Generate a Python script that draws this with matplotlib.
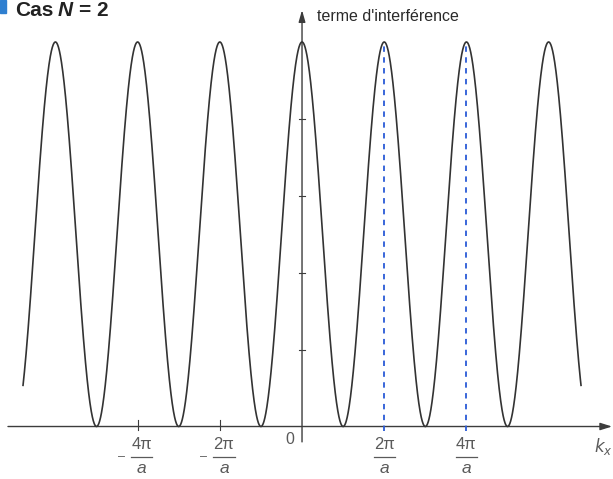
import numpy as np
import matplotlib
matplotlib.use("Agg")
import matplotlib.pyplot as plt
from matplotlib.patches import Rectangle

plt.rcParams['font.family'] = ['Liberation Sans', 'DejaVu Sans']

# ---- data ----
N = 2                                   # number of slits
k_range = (-3.395, 3.395)               # k_x in units of 2*pi/a
tick_positions = [-2, -1, 1, 2]         # multiples of 2*pi/a
tick_numerators = ['4\u03c0', '2\u03c0', '2\u03c0', '4\u03c0']
tick_signs = ['\u2013', '\u2013', '', '']
dashed_positions = [1, 2]
y_minor_ticks = [0.2, 0.4, 0.6, 0.8]

k = np.linspace(k_range[0], k_range[1], 3000)
# interference term for N slits, normalised to 1 (N = 2 : cos^2(k a / 2))
term = (np.sin(N * np.pi * k) / (N * np.sin(np.pi * k) + 1e-300)) ** 2
term[np.abs(np.sin(np.pi * k)) < 1e-9] = 1.0

fig = plt.figure(figsize=(6.13, 4.79), dpi=100)
ax = fig.add_axes([0, 0, 1, 1])
ax.set_xlim(-3.674, 3.783)
ax.set_ylim(-0.1365, 1.1092)
ax.axis('off')

axis_col = '#3c3c3c'
lab_col = '#5a5a5a'

# curve
ax.plot(k, term, color='#333333', lw=1.2, solid_capstyle='butt', zorder=3)

# x axis with arrow
ax.annotate('', xy=(3.771, 0), xytext=(-3.577, 0),
            arrowprops=dict(arrowstyle='-|>,head_length=0.7,head_width=0.22',
                            color=axis_col, lw=1.0, shrinkA=0, shrinkB=0), zorder=2)
# y axis with arrow
ax.annotate('', xy=(0, 1.083), xytext=(0, -0.04),
            arrowprops=dict(arrowstyle='-|>,head_length=0.7,head_width=0.2',
                            color=axis_col, lw=1.0, shrinkA=0, shrinkB=0), zorder=2)

# small ticks on y axis
for yv in y_minor_ticks:
    ax.plot([-0.035, 0.035], [yv, yv], color=axis_col, lw=0.8, zorder=2)

# dashed blue lines
for xv in dashed_positions:
    ax.plot([xv, xv], [-0.012, 1.0], color='#2a5bd7', lw=1.3,
            ls=(0, (3, 3)), zorder=4)

# x ticks and fraction labels
for xv, num, sgn in zip(tick_positions, tick_numerators, tick_signs):
    if xv < 0:
        ax.plot([xv, xv], [-0.008, 0.018], color=axis_col, lw=0.8, zorder=2)
        cx = xv + 0.05
    else:
        cx = xv
    ax.text(cx, -0.047, num, ha='center', va='center', fontsize=12, color=lab_col)
    ax.plot([cx - 0.13, cx + 0.13], [-0.079, -0.079], color=lab_col, lw=0.9)
    ax.text(cx, -0.109, 'a', ha='center', va='center', fontsize=12.5,
            style='italic', color=lab_col)
    if sgn:
        ax.text(xv - 0.2, -0.079, sgn, ha='center', va='center', fontsize=9,
                color=lab_col)

ax.text(-0.15, -0.033, '0', ha='center', va='center', fontsize=11.5, color=lab_col)
ax.text(3.67, -0.053, '$k_x$', ha='center', va='center', fontsize=12, color=lab_col)

ax.text(0.18, 1.067, "terme d'interférence", ha='left', va='center',
        fontsize=11.5, color='#2a2a2a')

# title
ty = 0.9666
fig.text(0.024, ty, 'Cas', ha='left', va='baseline', fontsize=15,
         fontweight='bold', color='#222222')
fig.text(0.094, ty, 'N', ha='left', va='baseline', fontsize=15,
         fontweight='bold', style='italic', color='#222222')
fig.text(0.129, ty, '= 2', ha='left', va='baseline', fontsize=15,
         fontweight='bold', color='#222222')
fig.patches.append(Rectangle((0, 0.972), 0.009, 0.028, transform=fig.transFigure,
                             color='#2f7fd0', figure=fig))

fig.savefig('out.png', dpi=100)
